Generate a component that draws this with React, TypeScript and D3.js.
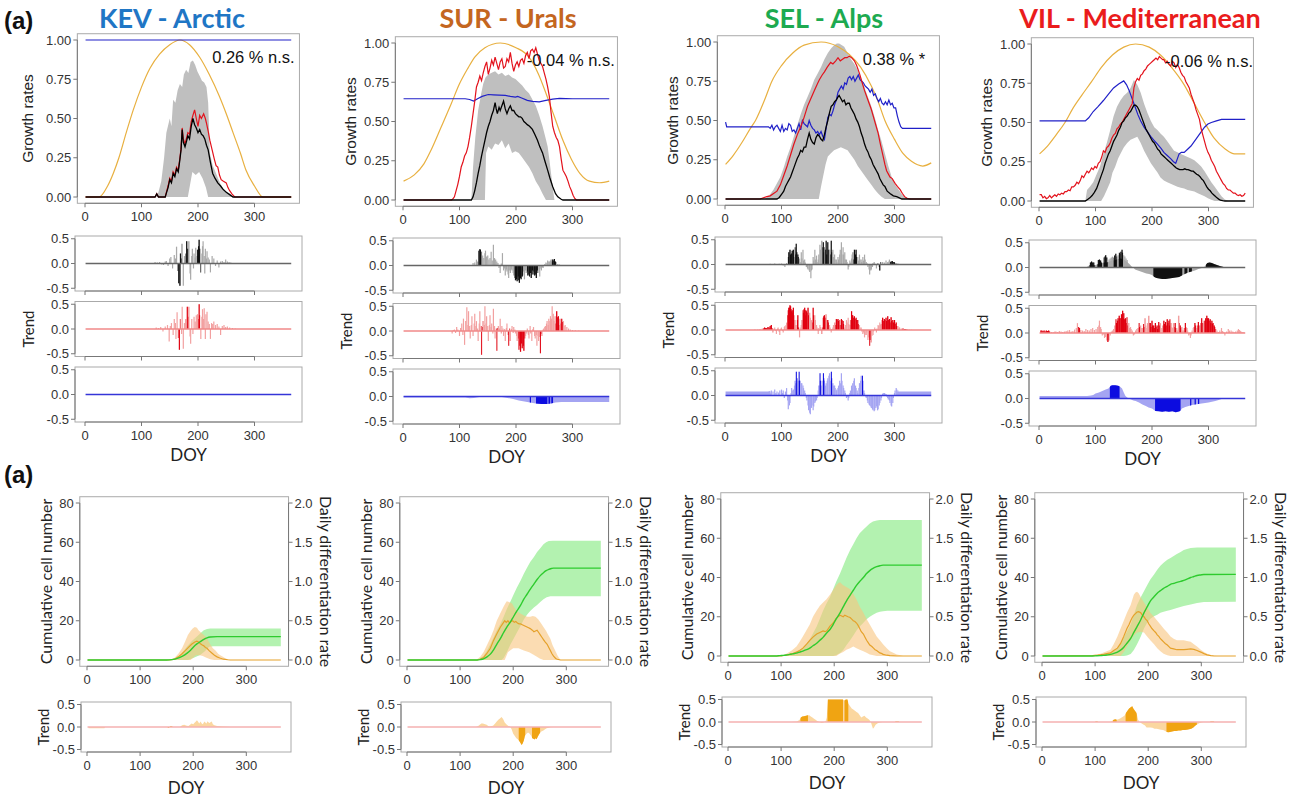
import React from "react";
import * as d3 from "d3";

type Pt = [number, number];

const FONT = "'Liberation Sans', Arial, sans-serif";
const HFONT = "Lato, 'Open Sans', sans-serif";
const AXIS = "#777";
const BOX = "#aaa";

// ---------- axes / labels ----------
const DOY_TICKS = [0, 100, 200, 300];
const GROWTH_TICKS = [0, 0.25, 0.5, 0.75, 1];
const TREND_TICKS = [-0.5, 0, 0.5];
const CELL_TICKS = [0, 20, 40, 60, 80];
const RATE_TICKS = [0, 0.5, 1, 1.5, 2];

const siteNames = ["KEV - Arctic", "SUR - Urals", "SEL - Alps", "VIL - Mediterranean"];
const siteColors = ["#1f76c5", "#c4661f", "#1daa50", "#ea1c1c"];
const trendTexts = ["0.26 % n.s.", "-0.04 % n.s.", "0.38 % *", "-0.06 % n.s."];
const trendTextDoy = [225, 219, 244, 223];

// ---------- KEV ----------
const kevDayLength: Pt[] = [[1,0],[25,0],[40,0.07],[50,0.15],[60,0.25],[73,0.41],[85,0.55],[100,0.7],[115,0.82],[132,0.91],[150,0.97],[168,1],[185,0.97],[203,0.89],[220,0.78],[238,0.64],[250,0.53],[262,0.41],[275,0.28],[285,0.17],[300,0.07],[315,0],[365,0]];
const kevBandHigh: Pt[] = [[126,0],[130,0.03],[135,0.1],[140,0.25],[144,0.41],[150,0.5],[153,0.45],[156,0.62],[160,0.6],[164,0.68],[168,0.72],[172,0.7],[175,0.78],[179,0.81],[183,0.79],[187,0.86],[191,0.87],[195,0.84],[199,0.8],[203,0.77],[207,0.74],[211,0.73],[215,0.7],[218,0.6],[221,0.28],[226,0.2],[232,0.15],[240,0.08],[248,0.04],[256,0.02],[262,0]];
const kevBandLow: Pt[] = [[126,0],[182,0],[186,0.08],[190,0.16],[196,0.14],[202,0.16],[208,0.12],[214,0.06],[218,0],[262,0]];
const kevMean: Pt[] = [[1,0],[124,0],[127,0.02],[130,0],[142,0],[144,0.025],[147,0.06],[150,0.11],[153,0.09],[156,0.15],[159,0.13],[162,0.18],[165,0.16],[168,0.24],[170,0.3],[172,0.43],[174,0.35],[177,0.32],[180,0.36],[182,0.39],[185,0.37],[188,0.45],[191,0.5],[194,0.46],[197,0.44],[200,0.41],[203,0.43],[206,0.4],[209,0.39],[212,0.37],[215,0.33],[218,0.3],[222,0.22],[226,0.15],[230,0.12],[235,0.09],[240,0.07],[244,0.05],[250,0.03],[256,0.015],[262,0],[365,0]];
const kevRed: Pt[] = [[1,0],[124,0],[127,0.02],[130,0],[142,0],[144,0.03],[147,0.07],[150,0.12],[153,0.1],[156,0.16],[159,0.14],[162,0.19],[165,0.17],[168,0.25],[170,0.31],[172,0.44],[174,0.37],[177,0.34],[180,0.38],[182,0.41],[185,0.4],[188,0.48],[191,0.52],[194,0.555],[197,0.5],[200,0.45],[203,0.52],[206,0.5],[210,0.53],[213,0.5],[215,0.47],[218,0.42],[221,0.36],[225,0.3],[229,0.24],[232,0.2],[235,0.19],[238,0.14],[241,0.11],[245,0.1],[250,0.09],[253,0.06],[256,0.04],[260,0.02],[265,0],[365,0]];
const kevBlue: Pt[] = [[1,1],[365,1]];

const kevTrendBlack: Pt[] = [[124,0.03],[128,0.02],[132,0.03],[136,-0.02],[139,-0.03],[142,0.04],[144,0.05],[147,-0.05],[150,0.1],[152,0.13],[155,-0.1],[158,0.17],[160,0.1],[162,0.34],[164,-0.15],[166,-0.4],[168,-0.45],[169,0.2],[171,0.1],[172,0.4],[174,-0.45],[176,0.15],[178,0.2],[180,0.45],[182,0.3],[184,0.45],[186,-0.2],[187,-0.33],[189,0.15],[190,0.3],[192,-0.1],[193,0.2],[195,0.12],[196,0.32],[198,0.15],[199,0.28],[201,0.35],[202,0.48],[203,0.3],[205,-0.18],[207,0.2],[208,0.35],[209,0.45],[211,0.15],[212,-0.2],[213,0.3],[215,0.1],[216,0.25],[218,0.12],[220,0.08],[222,-0.18],[225,0.15],[228,0.1],[231,-0.05],[234,0.06],[237,-0.08],[240,0.04],[243,0.05],[246,0.03],[249,0.08],[252,0.04],[255,0.03],[258,0.02],[261,0.01],[264,0.01]];
const kevTrendBlackSig: Pt[] = [[165,170],[179,182],[199,204]];
const kevTrendRed: Pt[] = [[126,0.03],[130,0.02],[134,0.04],[138,-0.05],[142,0.05],[146,0.08],[149,-0.25],[151,0.06],[153,0.12],[156,-0.12],[158,0.2],[160,0.12],[161,-0.2],[163,0.34],[165,-0.18],[167,-0.42],[169,0.2],[171,-0.1],[172,0.45],[174,-0.4],[176,0.12],[178,0.2],[181,0.45],[183,0.25],[184,0.45],[186,-0.15],[187,-0.3],[189,0.2],[191,-0.1],[193,0.25],[195,0.15],[197,0.28],[199,0.3],[200,0.2],[202,0.5],[203,0.28],[205,-0.2],[207,0.25],[208,0.4],[210,0.2],[211,0.42],[213,-0.2],[214,0.3],[216,0.35],[218,0.15],[220,0.1],[222,-0.2],[224,0.12],[226,0.1],[228,0.15],[231,0.08],[234,0.1],[237,0.05],[240,-0.12],[243,0.06],[246,0.08],[249,0.04],[252,0.05],[256,0.03],[261,0.02],[266,0.01]];
const kevTrendRedSig: Pt[] = [[166,168],[180,182],[201,203]];

const kevCells: Pt[] = [[1,0],[150,0],[160,0.2],[170,0.8],[180,2],[188,3.4],[195,5],[201,6.8],[207,8.2],[213,9.3],[220,10.5],[226,11.3],[232,11.7],[245,11.9],[365,11.9]];
const kevCellsHigh: Pt[] = [[150,0],[163,0.5],[176,2.5],[188,6.8],[198,9.8],[207,12],[214,13.8],[220,15.2],[226,15.8],[232,16],[365,16.1]];
const kevCellsLow: Pt[] = [[150,0],[190,0],[200,1],[213,2.5],[222,4.5],[230,6.8],[238,7],[365,7]];
const kevRate: Pt[] = [[1,0],[155,0],[165,0.01],[172,0.04],[179,0.08],[185,0.12],[191,0.16],[197,0.2],[203,0.23],[207,0.24],[210,0.23],[213,0.21],[217,0.19],[220,0.18],[223,0.16],[226,0.15],[230,0.12],[235,0.09],[240,0.06],[245,0.04],[250,0.025],[257,0.01],[265,0.003],[270,0],[365,0]];
const kevRateHigh: Pt[] = [[158,0],[165,0.03],[172,0.08],[179,0.15],[185,0.24],[190,0.32],[195,0.37],[199,0.4],[203,0.42],[207,0.41],[210,0.38],[213,0.36],[218,0.33],[223,0.3],[228,0.25],[232,0.2],[237,0.15],[242,0.12],[247,0.08],[251,0.06],[256,0.04],[261,0.02],[270,0]];
const kevRateLow: Pt[] = [[158,0],[195,0],[200,0.03],[205,0.06],[212,0.06],[218,0.05],[225,0.03],[232,0.01],[240,0],[270,0]];
const kevTrendCell: Pt[] = [[3,-0.03],[33,-0.03],[34,0],[150,0],[153,-0.02],[158,0.02],[162,0],[175,0],[179,0.04],[183,0.05],[188,0.03],[191,0.02],[194,0.05],[197,0.08],[200,0.06],[203,0.1],[205,0.12],[207,0.15],[209,0.12],[210,0.1],[212,0.08],[213,0.12],[215,0.1],[217,0.06],[219,0.08],[221,0.12],[223,0.1],[225,0.08],[227,0.13],[229,0.1],[231,0.09],[233,0.11],[235,0.12],[237,0.06],[240,0.04],[245,0.02],[255,0.01],[265,0.005],[270,0]];
const kevTrendCellSig: Pt[] = [[153,162]];

// ---------- SUR ----------
const surDayLength: Pt[] = [[1,0.12],[20,0.16],[37,0.23],[50,0.32],[67,0.46],[85,0.61],[100,0.74],[115,0.84],[127,0.91],[145,0.97],[172,1],[200,0.97],[223,0.91],[240,0.8],[253,0.68],[268,0.53],[283,0.38],[298,0.26],[313,0.17],[330,0.12],[348,0.11],[365,0.12]];
const surBandHigh: Pt[] = [[121,0],[124,0.21],[128,0.4],[133,0.57],[138,0.67],[142,0.74],[146,0.78],[151,0.8],[157,0.81],[163,0.82],[169,0.8],[175,0.81],[181,0.79],[187,0.8],[193,0.78],[199,0.77],[205,0.75],[211,0.73],[217,0.7],[223,0.68],[229,0.64],[235,0.6],[241,0.54],[247,0.47],[252,0.4],[256,0.34],[259,0.26],[262,0.17],[265,0.08],[268,0]];
const surBandLow: Pt[] = [[121,0],[145,0],[147,0.3],[151,0.34],[157,0.32],[163,0.36],[169,0.35],[175,0.38],[181,0.33],[187,0.36],[193,0.3],[199,0.31],[205,0.3],[211,0.27],[217,0.24],[223,0.21],[229,0.17],[235,0.12],[241,0.085],[247,0.04],[253,0],[268,0]];
const surMean: Pt[] = [[1,0],[121,0],[124,0.02],[127,0.06],[130,0.11],[133,0.17],[136,0.22],[139,0.28],[142,0.33],[145,0.38],[148,0.43],[151,0.47],[154,0.5],[157,0.54],[160,0.57],[163,0.62],[165,0.58],[167,0.55],[170,0.59],[172,0.57],[175,0.6],[178,0.63],[181,0.58],[184,0.55],[187,0.58],[190,0.6],[193,0.57],[196,0.57],[199,0.55],[202,0.54],[205,0.53],[208,0.53],[211,0.52],[214,0.5],[217,0.49],[220,0.48],[224,0.47],[229,0.45],[233,0.42],[238,0.38],[242,0.34],[247,0.3],[251,0.25],[256,0.19],[260,0.14],[265,0.085],[270,0.04],[274,0.02],[280,0.005],[283,0],[365,0]];
const surRed: Pt[] = [[1,0],[86,0],[89,0.01],[91,0.02],[94,0.06],[97,0.1],[100,0.15],[103,0.21],[106,0.24],[109,0.28],[112,0.3],[115,0.34],[118,0.4],[121,0.47],[124,0.55],[127,0.63],[130,0.72],[133,0.75],[136,0.79],[139,0.76],[142,0.81],[145,0.85],[148,0.88],[151,0.8],[154,0.84],[157,0.89],[160,0.86],[163,0.91],[166,0.87],[169,0.83],[172,0.88],[175,0.9],[178,0.84],[181,0.85],[184,0.9],[187,0.88],[190,0.94],[193,0.87],[196,0.82],[199,0.86],[202,0.88],[205,0.85],[208,0.89],[211,0.9],[214,0.87],[217,0.92],[220,0.94],[223,0.9],[226,0.95],[229,0.96],[232,0.94],[235,0.97],[238,0.93],[241,0.89],[244,0.87],[247,0.85],[250,0.81],[253,0.77],[256,0.72],[259,0.66],[262,0.56],[265,0.47],[268,0.43],[271,0.4],[274,0.38],[277,0.34],[280,0.26],[283,0.19],[286,0.17],[289,0.15],[292,0.12],[295,0.085],[298,0.06],[301,0.03],[304,0.01],[307,0],[365,0]];
const surBlue: Pt[] = [[1,0.645],[110,0.645],[118,0.64],[125,0.63],[132,0.645],[140,0.66],[151,0.672],[160,0.67],[170,0.668],[181,0.666],[190,0.66],[199,0.655],[203,0.66],[210,0.65],[220,0.635],[229,0.628],[241,0.625],[253,0.635],[265,0.642],[277,0.647],[300,0.645],[365,0.645]];

const surTrendBlack: Pt[] = [[124,0.05],[127,0.06],[130,0.12],[132,0.08],[134,0.3],[136,0.33],[137,0.32],[139,0.28],[141,0.2],[143,0.15],[145,0.25],[146,0.3],[148,0.18],[150,0.2],[152,0.12],[154,0.15],[156,0.28],[158,0.1],[160,0.42],[162,0.15],[164,0.12],[166,0.08],[168,0.05],[170,-0.05],[172,-0.15],[174,0.04],[176,0.25],[178,-0.1],[180,-0.06],[181,-0.2],[183,-0.08],[184,-0.12],[186,-0.18],[187,-0.25],[189,-0.1],[190,-0.15],[192,-0.08],[193,-0.1],[195,-0.15],[196,-0.2],[198,-0.25],[199,-0.3],[201,-0.28],[202,-0.32],[204,-0.22],[205,-0.3],[206,-0.35],[208,-0.25],[209,-0.28],[211,-0.22],[212,-0.2],[214,-0.12],[215,-0.28],[217,-0.1],[218,-0.15],[220,-0.12],[221,-0.2],[223,-0.18],[224,-0.22],[226,-0.15],[227,-0.25],[229,-0.1],[230,-0.18],[232,-0.12],[233,-0.2],[235,-0.18],[236,-0.25],[238,-0.1],[239,-0.15],[241,-0.08],[242,-0.22],[244,-0.06],[245,-0.1],[247,-0.04],[248,-0.05],[251,0.03],[253,0.06],[255,0.05],[256,0.1],[258,0.08],[259,0.08],[261,0.1],[262,0.12],[264,0.08],[265,0.12],[267,0.1],[268,0.13],[270,0.08],[271,0.07],[274,0.03],[277,0.02],[280,0.01]];
const surTrendBlackSig: Pt[] = [[134,138],[198,212],[220,238],[264,270]];
const surTrendRed: Pt[] = [[87,-0.05],[89,0.02],[91,0.03],[93,-0.04],[95,0.08],[97,0.03],[100,-0.1],[102,0.06],[104,0.15],[106,-0.08],[107,0.25],[109,-0.28],[111,0.2],[113,0.48],[115,0.12],[116,0.4],[118,0.1],[119,-0.15],[121,0.12],[122,0.3],[124,-0.1],[126,0.15],[127,0.35],[129,0.1],[130,0.2],[132,0.05],[133,-0.2],[135,0.15],[136,0.4],[138,0.1],[139,-0.48],[141,0.08],[142,0.2],[144,0.12],[145,0.5],[147,0.15],[148,0.3],[150,0.1],[151,-0.2],[153,0.12],[154,0.32],[156,0.08],[157,0.15],[159,-0.05],[160,0.45],[162,0.1],[163,-0.15],[165,0.05],[166,-0.4],[168,0.06],[169,0.1],[171,0.05],[172,0.25],[174,-0.05],[175,0.1],[177,0.05],[178,-0.1],[180,0.04],[181,-0.2],[183,0.06],[184,0.15],[186,-0.08],[187,-0.3],[189,0.05],[190,-0.2],[192,0.04],[193,0.1],[195,-0.04],[196,0.08],[198,0.03],[199,-0.05],[201,-0.1],[202,-0.2],[204,-0.15],[205,-0.38],[207,-0.3],[208,-0.42],[210,-0.25],[211,-0.35],[213,-0.3],[214,-0.4],[216,-0.15],[217,-0.1],[219,-0.05],[220,0.05],[222,-0.08],[223,-0.15],[225,0.1],[226,-0.05],[228,-0.2],[230,0.04],[231,0.08],[233,-0.1],[234,-0.15],[236,-0.08],[237,-0.3],[239,-0.1],[240,-0.2],[242,-0.12],[243,-0.45],[245,-0.06],[246,-0.1],[248,0.03],[249,0.05],[251,0.08],[252,0.1],[254,0.15],[255,0.2],[257,0.12],[258,0.25],[260,0.2],[261,0.3],[263,0.25],[264,0.5],[266,0.35],[267,0.2],[269,0.3],[270,0.15],[272,0.4],[273,0.28],[275,0.3],[276,0.12],[278,0.25],[279,0.15],[281,0.25],[282,0.18],[284,0.2],[285,0.1],[287,0.12],[290,0.08],[293,0.05],[296,0.03],[300,0.02],[305,0.015],[311,0.01]];
const surTrendRedSig: Pt[] = [[139,140],[166,167],[187,188],[205,215],[243,244],[271,276],[280,282]];
const surTrendBlue: Pt[] = [[1,-0.02],[60,-0.02],[110,-0.02],[118,-0.035],[125,-0.03],[135,-0.01],[145,0],[155,0.01],[165,0.005],[175,-0.01],[185,-0.03],[195,-0.05],[205,-0.08],[215,-0.1],[225,-0.12],[235,-0.14],[245,-0.15],[255,-0.15],[262,-0.14],[270,-0.12],[280,-0.11],[290,-0.11],[365,-0.11]];
const surTrendBlueSig: Pt[] = [[225,226],[236,255],[258,260],[263,265]];

const surCells: Pt[] = [[1,0],[132,0],[138,0.2],[144,0.6],[150,1.5],[157,3],[163,5.2],[169,8],[176,11],[182,14],[188,16.8],[195,19.5],[201,22.3],[207,25],[214,28],[220,31],[226,33.5],[232,36],[239,38.7],[245,41],[251,43],[257,44.5],[262,45.5],[267,46.2],[272,46.6],[276,46.8],[365,46.8]];
const surCellsHigh: Pt[] = [[132,0],[144,2],[150,4.5],[157,8],[163,11.5],[169,15],[176,18.5],[182,22],[188,26],[195,30],[201,33.5],[207,37],[214,40.5],[220,44],[226,47],[232,50],[239,52.5],[245,55],[251,57],[257,59],[262,60],[267,60.6],[275,60.8],[365,60.8]];
const surCellsLow: Pt[] = [[132,0],[178,0],[182,1],[188,4],[195,8],[201,11],[207,14],[214,17.5],[220,20.7],[226,23],[232,25],[239,26.7],[245,28],[251,29.5],[257,31],[263,32],[270,32.5],[365,32.5]];
const surRate: Pt[] = [[1,0],[132,0],[138,0.01],[144,0.03],[150,0.08],[157,0.15],[163,0.25],[169,0.33],[176,0.42],[180,0.46],[184,0.5],[187,0.48],[190,0.5],[193,0.47],[196,0.49],[199,0.5],[202,0.48],[205,0.49],[208,0.47],[211,0.46],[214,0.46],[217,0.45],[220,0.44],[223,0.43],[226,0.42],[229,0.41],[232,0.4],[236,0.38],[239,0.36],[242,0.37],[245,0.38],[248,0.35],[251,0.32],[254,0.29],[257,0.26],[260,0.23],[264,0.2],[267,0.16],[270,0.12],[273,0.08],[276,0.05],[280,0.02],[283,0.01],[289,0],[365,0]];
const surRateHigh: Pt[] = [[132,0.01],[138,0.04],[144,0.1],[150,0.18],[157,0.28],[163,0.38],[169,0.5],[176,0.6],[182,0.68],[186,0.73],[188,0.75],[192,0.74],[198,0.72],[202,0.67],[207,0.62],[212,0.6],[217,0.58],[222,0.56],[227,0.55],[232,0.55],[237,0.56],[242,0.55],[247,0.52],[252,0.47],[257,0.42],[262,0.37],[266,0.32],[270,0.27],[274,0.19],[279,0.12],[284,0.05],[289,0]];
const surRateLow: Pt[] = [[132,0],[184,0],[190,0.1],[200,0.15],[210,0.15],[220,0.12],[230,0.1],[240,0.06],[250,0.02],[257,0],[289,0]];
const surTrendCell: Pt[] = [[130,0],[134,0.02],[137,0.05],[140,0.08],[143,0.08],[147,0.06],[150,0.05],[153,0.02],[156,0.01],[159,0.02],[162,0.03],[166,0.08],[169,0.12],[172,0.16],[175,0.19],[178,0.22],[181,0.18],[184,0.1],[188,0.05],[191,0.02],[194,0.01],[197,-0.05],[200,-0.15],[203,-0.2],[206,-0.25],[209,-0.28],[212,-0.32],[214,-0.36],[216,-0.4],[218,-0.36],[220,-0.3],[222,-0.2],[225,-0.15],[228,-0.12],[231,-0.15],[234,-0.2],[236,-0.25],[238,-0.26],[240,-0.28],[242,-0.25],[244,-0.27],[246,-0.22],[248,-0.18],[250,-0.14],[253,-0.1],[257,-0.08],[260,-0.05],[263,-0.03],[267,-0.015],[270,-0.005],[276,0]];
const surTrendCellSig: Pt[] = [[211,222],[236,250]];

// ---------- SEL ----------
const selDayLength: Pt[] = [[1,0.22],[15,0.28],[30,0.36],[45,0.45],[54,0.5],[70,0.63],[83,0.75],[100,0.85],[120,0.93],[140,0.98],[170,1],[200,0.97],[220,0.92],[240,0.84],[259,0.72],[270,0.63],[283,0.5],[300,0.38],[315,0.29],[330,0.24],[350,0.21],[365,0.23]];
const selBandHigh: Pt[] = [[71,0],[80,0.03],[86,0.06],[92,0.1],[98,0.14],[104,0.2],[110,0.27],[116,0.33],[122,0.4],[128,0.47],[134,0.54],[140,0.6],[146,0.65],[152,0.7],[158,0.76],[164,0.8],[170,0.84],[176,0.89],[182,0.93],[188,0.96],[193,0.98],[198,0.99],[202,0.99],[207,0.98],[211,0.97],[217,0.93],[223,0.89],[229,0.86],[235,0.82],[241,0.77],[247,0.71],[253,0.65],[259,0.59],[265,0.52],[271,0.44],[277,0.37],[283,0.29],[289,0.21],[295,0.14],[301,0.09],[307,0.06],[313,0.03],[318,0.015],[330,0]];
const selBandLow: Pt[] = [[71,0],[166,0],[170,0.08],[174,0.15],[178,0.22],[182,0.27],[187,0.29],[193,0.31],[199,0.32],[205,0.33],[211,0.32],[217,0.31],[223,0.28],[229,0.25],[235,0.21],[241,0.18],[247,0.15],[253,0.12],[259,0.09],[265,0.06],[271,0.035],[277,0.015],[283,0],[330,0]];
const selMean: Pt[] = [[1,0],[92,0],[96,0.01],[101,0.035],[104,0.05],[107,0.08],[110,0.1],[113,0.12],[116,0.14],[119,0.17],[122,0.2],[125,0.23],[128,0.26],[131,0.28],[134,0.31],[137,0.3],[140,0.33],[143,0.33],[146,0.38],[149,0.42],[152,0.38],[155,0.36],[158,0.35],[161,0.39],[164,0.41],[167,0.4],[170,0.38],[173,0.37],[176,0.41],[179,0.46],[182,0.5],[185,0.55],[188,0.59],[191,0.6],[194,0.62],[197,0.63],[200,0.65],[202,0.66],[205,0.64],[208,0.62],[211,0.63],[214,0.6],[217,0.61],[220,0.61],[223,0.58],[226,0.56],[229,0.54],[232,0.51],[235,0.49],[238,0.46],[241,0.42],[244,0.39],[247,0.35],[250,0.32],[253,0.3],[256,0.27],[259,0.25],[262,0.22],[265,0.2],[268,0.18],[271,0.16],[274,0.13],[277,0.11],[280,0.09],[283,0.08],[287,0.05],[292,0.035],[298,0.02],[304,0.015],[313,0],[365,0]];
const selRed: Pt[] = [[1,0],[62,0],[68,0.008],[74,0.015],[80,0.02],[86,0.035],[92,0.05],[98,0.09],[104,0.15],[110,0.21],[116,0.28],[122,0.35],[128,0.41],[134,0.46],[140,0.52],[146,0.59],[152,0.64],[158,0.69],[163,0.73],[167,0.76],[172,0.79],[176,0.81],[181,0.84],[187,0.87],[191,0.86],[196,0.88],[200,0.9],[204,0.88],[208,0.89],[212,0.9],[216,0.9],[220,0.91],[224,0.9],[229,0.88],[233,0.85],[238,0.8],[242,0.75],[247,0.69],[252,0.64],[256,0.6],[259,0.57],[263,0.52],[267,0.47],[271,0.42],[275,0.35],[280,0.27],[283,0.22],[286,0.18],[289,0.16],[292,0.14],[296,0.13],[301,0.1],[305,0.08],[310,0.06],[314,0.035],[318,0.015],[322,0.005],[327,0],[365,0]];
const selBlue: Pt[] = [[1,0.49],[3,0.46],[77,0.46],[80,0.45],[83,0.47],[86,0.44],[89,0.46],[92,0.47],[95,0.45],[98,0.43],[101,0.47],[104,0.43],[107,0.45],[110,0.44],[113,0.48],[116,0.47],[119,0.43],[122,0.44],[125,0.42],[128,0.45],[131,0.48],[134,0.44],[137,0.5],[140,0.48],[143,0.47],[146,0.46],[149,0.5],[152,0.47],[155,0.45],[158,0.44],[161,0.42],[164,0.43],[167,0.41],[170,0.43],[173,0.4],[176,0.38],[179,0.45],[182,0.52],[185,0.54],[188,0.53],[191,0.56],[194,0.6],[197,0.63],[200,0.68],[203,0.7],[206,0.72],[209,0.7],[212,0.74],[215,0.73],[218,0.77],[221,0.78],[224,0.76],[227,0.78],[230,0.75],[233,0.77],[236,0.79],[239,0.76],[242,0.75],[245,0.74],[248,0.72],[251,0.71],[254,0.7],[257,0.68],[260,0.7],[263,0.66],[266,0.67],[269,0.64],[272,0.62],[275,0.64],[278,0.61],[281,0.6],[284,0.62],[287,0.6],[290,0.63],[293,0.6],[296,0.61],[299,0.58],[302,0.58],[305,0.53],[308,0.49],[311,0.46],[314,0.45],[365,0.45]];

const selTrendBlack: Pt[] = [[76,0.01],[80,0.015],[84,0.01],[88,0.02],[92,0.01],[96,0.015],[100,0.02],[103,-0.02],[106,-0.05],[109,0.03],[112,0.15],[113,0.25],[115,0.3],[116,0.2],[118,0.22],[119,0.28],[121,0.3],[122,0.15],[124,0.35],[125,0.2],[126,0.42],[127,0.25],[129,0.2],[130,0.15],[132,0.12],[133,0.05],[135,0.25],[136,0.12],[138,0.3],[139,0.08],[141,0.1],[142,0.04],[144,-0.05],[146,-0.08],[147,-0.1],[149,-0.12],[150,-0.15],[152,-0.28],[153,-0.12],[154,-0.1],[156,0.15],[157,0.08],[159,0.3],[160,0.1],[162,0.18],[163,0.05],[165,0.1],[166,0.2],[168,0.4],[169,0.3],[171,0.48],[172,0.35],[174,0.45],[175,0.25],[176,0.35],[178,0.3],[179,0.48],[180,0.2],[182,0.45],[183,0.3],[185,0.3],[186,0.2],[188,0.48],[189,0.25],[191,0.3],[192,0.15],[194,0.2],[195,0.1],[197,0.1],[198,0.05],[200,0.15],[201,0.1],[203,0.2],[204,0.3],[206,0.45],[207,0.2],[209,0.35],[210,0.2],[212,0.25],[213,0.1],[215,0.1],[216,0.05],[218,-0.1],[219,-0.05],[221,0.08],[222,0.04],[224,0.12],[225,0.2],[226,0.25],[228,0.1],[229,0.3],[231,0.2],[232,0.3],[233,0.15],[235,0.15],[236,0.08],[238,0.2],[239,0.1],[241,0.1],[242,0.05],[244,0.15],[245,0.08],[247,0.2],[248,0.1],[250,0.05],[252,0.02],[253,-0.05],[255,-0.1],[256,-0.2],[258,-0.12],[259,-0.1],[261,-0.05],[262,0.03],[264,0.05],[265,0.02],[268,-0.08],[270,0.03],[271,0.02],[273,-0.05],[274,-0.12],[276,0.05],[279,0.05],[282,0.04],[285,0.08],[288,0.05],[290,0.06],[291,0.1],[293,0.05],[294,0.06],[296,0.07],[297,0.05],[299,0.05],[300,0.04],[303,0.03],[306,0.02],[309,0.01],[312,0.01]];
const selTrendBlackSig: Pt[] = [[112,122],[125,130],[173,175],[178,183],[187,189],[228,233],[273,275],[293,301]];
const selTrendRed: Pt[] = [[53,0.01],[58,0.01],[62,0.02],[66,0.03],[68,0.03],[70,0.05],[72,0.04],[74,0.04],[76,0.06],[78,0.05],[80,0.08],[82,0.1],[84,0.04],[85,-0.05],[87,0.03],[88,0.05],[90,-0.02],[91,-0.08],[93,0.03],[94,0.05],[96,-0.04],[97,-0.1],[99,0.03],[100,0.05],[102,-0.02],[103,-0.05],[105,0.06],[106,0.08],[108,0.1],[109,0.15],[111,0.3],[112,0.4],[113,0.45],[114,0.45],[115,0.5],[116,0.48],[117,0.42],[118,0.38],[119,0.35],[120,0.4],[121,0.45],[122,0.3],[124,0.2],[125,0.1],[126,0.1],[128,0.2],[129,0.3],[130,0.05],[132,-0.15],[133,0.05],[135,0.1],[136,0.2],[138,0.4],[139,0.35],[140,0.42],[141,0.45],[142,0.3],[143,0.4],[144,0.38],[145,0.35],[147,0.45],[148,0.3],[150,0.35],[151,0.25],[153,0.2],[154,0.15],[156,0.45],[157,0.3],[159,0.3],[160,0.2],[162,0.1],[163,0.05],[165,-0.08],[166,0.04],[168,0.1],[169,0.06],[171,-0.08],[172,0.05],[174,0.25],[175,0.28],[176,0.3],[178,0.25],[179,0.32],[180,0.2],[182,0.2],[183,0.15],[185,0.1],[186,0.05],[188,-0.05],[189,0.02],[191,0.05],[192,0.1],[194,0.15],[195,0.1],[197,0.22],[198,0.2],[200,0.22],[201,0.18],[203,0.2],[204,0.1],[206,0.22],[207,0.2],[209,0.18],[210,0.12],[212,0.05],[213,0.1],[215,0.2],[216,0.15],[218,0.25],[219,0.12],[221,0.1],[222,0.2],[224,0.38],[225,0.3],[226,0.3],[227,0.25],[229,0.28],[230,0.22],[232,0.25],[233,0.2],[235,0.2],[236,0.12],[238,0.1],[239,0.05],[241,0.05],[242,-0.03],[244,-0.08],[245,-0.05],[247,-0.15],[248,-0.1],[250,-0.1],[251,-0.05],[253,-0.2],[254,-0.15],[256,-0.32],[257,-0.2],[259,-0.25],[260,-0.12],[262,-0.1],[263,-0.03],[265,0.05],[266,0.02],[268,-0.05],[269,0.03],[271,0.1],[272,0.08],[274,0.15],[275,0.1],[276,0.12],[278,0.2],[279,0.25],[280,0.18],[282,0.22],[283,0.2],[285,0.25],[286,0.18],[288,0.28],[289,0.2],[291,0.22],[292,0.15],[294,0.26],[295,0.18],[297,0.2],[298,0.15],[300,0.2],[301,0.12],[303,0.15],[304,0.08],[306,0.08],[308,0.05],[309,0.05],[312,0.03],[315,0.03],[318,0.02],[320,0.02],[323,0.01],[326,0.01],[330,0.005]];
const selTrendRedSig: Pt[] = [[68,83],[111,122],[128,130],[138,148],[155,157],[173,177],[181,183],[196,202],[205,210],[223,236],[256,257],[278,304],[314,322]];
const selTrendBlueBase: Pt[] = [[1,0.08],[76,0.08],[80,0.09],[82,0],[303,0],[305,0.07],[308,0.08],[365,0.08]];
const selTrendBlue: Pt[] = [[82,0.1],[85,0.08],[88,0.12],[90,0.05],[92,0.08],[95,0.06],[97,0.1],[100,0.12],[102,0.05],[103,0.1],[105,-0.05],[107,0.08],[109,0.15],[111,-0.1],[112,-0.28],[114,-0.2],[115,-0.15],[117,0.05],[118,0.15],[120,0.1],[121,0.12],[123,0.2],[124,0.3],[125,0.25],[126,0.48],[128,0.35],[129,0.3],[131,0.48],[132,0.3],[133,0.3],[135,0.25],[136,0.25],[138,0.2],[139,0.15],[141,0.1],[142,0.05],[144,-0.05],[145,-0.1],[147,-0.2],[148,-0.3],[150,-0.35],[151,-0.38],[153,-0.25],[154,-0.2],[156,-0.3],[157,-0.22],[159,-0.15],[160,-0.12],[162,-0.1],[163,-0.05],[165,0.1],[166,0.2],[168,0.45],[169,0.3],[171,0.2],[172,0.3],[174,0.45],[175,0.35],[176,0.3],[178,0.2],[179,0.25],[181,0.3],[182,0.35],[184,0.4],[185,0.45],[186,0.3],[188,0.48],[189,0.35],[191,0.25],[192,0.2],[194,0.2],[195,0.15],[197,0.1],[198,0.12],[200,0.15],[201,0.2],[203,0.3],[204,0.25],[206,0.45],[207,0.3],[209,0.2],[210,0.15],[212,0.1],[213,0.05],[215,-0.05],[216,-0.03],[218,-0.1],[219,-0.05],[221,0.05],[222,0.1],[224,0.2],[225,0.15],[226,0.25],[228,0.3],[229,0.35],[231,0.2],[232,0.15],[234,0.1],[235,0.05],[237,0.15],[238,0.25],[240,0.3],[241,0.4],[243,0.4],[244,0.3],[246,0.1],[247,0.05],[249,-0.02],[250,-0.05],[252,-0.1],[253,-0.15],[255,-0.18],[256,-0.2],[258,-0.22],[259,-0.25],[261,-0.28],[262,-0.3],[264,-0.32],[265,-0.3],[267,-0.25],[268,-0.22],[270,-0.3],[271,-0.28],[273,-0.2],[274,-0.15],[276,-0.1],[277,-0.05],[279,0.03],[280,0.05],[282,0.05],[283,0.04],[285,0.03],[286,-0.02],[288,-0.05],[289,-0.08],[291,-0.1],[292,-0.15],[294,-0.2],[295,-0.22],[297,-0.15],[298,-0.05],[300,0.05],[301,0.1],[303,0.15],[304,0.12],[306,0.1]];
const selTrendBlueSig: Pt[] = [[126,127],[131,132],[168,169],[174,175],[188,189],[243,244]];

const selCells: Pt[] = [[1,0],[90,0],[98,0.2],[104,0.3],[110,0.5],[116,0.8],[122,1.1],[129,1.5],[135,2],[141,2.5],[148,3.2],[154,4],[160,5.2],[167,6.5],[173,8],[179,9.5],[185,11.5],[192,13.5],[198,16],[204,19],[211,22],[217,25],[223,28],[230,31],[236,33.5],[242,36],[248,38],[255,40],[261,42],[267,43.5],[273,44.6],[280,45.5],[286,46],[292,46.3],[365,46.3]];
const selCellsHigh: Pt[] = [[100,0],[110,0.5],[122,1.5],[135,3],[141,4],[148,6],[154,8.5],[160,11.5],[167,15],[173,19],[179,23],[185,26.5],[192,30],[198,34],[204,38],[211,42],[217,46],[223,50],[230,54],[236,57],[242,60],[248,62.5],[255,64.5],[261,66],[267,67.5],[273,68.5],[280,69],[286,69.3],[365,69.3]];
const selCellsLow: Pt[] = [[100,0],[198,0],[204,0.5],[211,1.5],[217,3],[223,5.5],[230,8],[236,10.5],[242,13],[248,15],[255,17],[261,18.7],[267,20],[273,21],[280,22],[286,22.5],[292,22.8],[300,23],[365,23]];
const selRate: Pt[] = [[1,0],[100,0],[108,0.01],[116,0.02],[123,0.035],[129,0.05],[135,0.07],[141,0.1],[148,0.15],[154,0.2],[160,0.24],[167,0.28],[173,0.3],[179,0.32],[183,0.31],[186,0.32],[189,0.35],[192,0.38],[195,0.4],[198,0.42],[201,0.45],[204,0.48],[207,0.5],[211,0.52],[214,0.51],[217,0.5],[220,0.52],[223,0.51],[226,0.5],[230,0.49],[233,0.47],[236,0.45],[239,0.44],[242,0.42],[245,0.39],[248,0.35],[251,0.31],[255,0.28],[258,0.24],[261,0.2],[264,0.17],[267,0.14],[271,0.12],[274,0.1],[277,0.08],[280,0.07],[283,0.055],[286,0.04],[290,0.03],[292,0.02],[299,0.01],[305,0.005],[318,0],[365,0]];
const selRateHigh: Pt[] = [[100,0],[110,0.03],[120,0.07],[129,0.12],[135,0.18],[141,0.25],[148,0.33],[154,0.4],[160,0.5],[167,0.58],[173,0.64],[179,0.68],[185,0.72],[192,0.78],[198,0.84],[204,0.9],[208,0.93],[211,0.94],[214,0.92],[217,0.9],[223,0.88],[230,0.85],[236,0.79],[242,0.72],[248,0.63],[255,0.55],[261,0.47],[267,0.4],[274,0.32],[280,0.25],[286,0.2],[292,0.15],[299,0.1],[305,0.06],[311,0.04],[318,0.02],[325,0.01],[330,0]];
const selRateLow: Pt[] = [[100,0],[204,0],[210,0.03],[217,0.05],[223,0.08],[230,0.1],[236,0.12],[242,0.1],[248,0.08],[255,0.06],[261,0.04],[267,0.02],[274,0.01],[280,0],[330,0]];
const selTrendCell: Pt[] = [[120,0],[130,0.01],[135,0.05],[137,0.1],[140,0.12],[143,0.13],[147,0.14],[150,0.15],[153,0.15],[156,0.12],[159,0.1],[162,0.07],[165,0.05],[168,0.02],[172,0],[176,-0.02],[180,-0.01],[184,0.02],[186,0.1],[188,0.5],[216,0.5],[219,0.48],[222,0.5],[225,0.5],[227,0.4],[230,0.35],[233,0.3],[236,0.28],[239,0.25],[242,0.22],[245,0.2],[248,0.15],[251,0.1],[254,0.12],[257,0.14],[260,0.1],[263,0.08],[266,0.05],[269,0],[271,-0.08],[273,-0.15],[275,-0.12],[278,-0.06],[282,-0.03],[286,-0.01],[291,0],[314,0],[316,0.01],[321,0.01],[323,0]];
const selTrendCellSig: Pt[] = [[137,150],[188,216],[220,226],[315,322]];

// ---------- VIL ----------
const vilDayLength: Pt[] = [[1,0.3],[15,0.35],[30,0.42],[46,0.5],[60,0.59],[75,0.67],[93,0.76],[110,0.85],[130,0.93],[150,0.98],[171,1],[195,0.98],[215,0.93],[235,0.85],[257,0.74],[275,0.62],[293,0.5],[310,0.4],[330,0.33],[346,0.3],[365,0.3]];
const vilBandHigh: Pt[] = [[82,0],[85,0.07],[90,0.09],[96,0.12],[102,0.17],[108,0.22],[114,0.3],[120,0.37],[126,0.45],[132,0.54],[138,0.6],[144,0.64],[150,0.67],[156,0.69],[162,0.72],[168,0.77],[174,0.74],[180,0.69],[186,0.62],[192,0.56],[198,0.51],[204,0.47],[210,0.45],[215,0.43],[221,0.41],[227,0.38],[233,0.35],[239,0.32],[245,0.31],[251,0.3],[257,0.29],[263,0.28],[269,0.27],[275,0.26],[281,0.24],[287,0.22],[293,0.19],[299,0.155],[305,0.12],[311,0.09],[317,0.06],[323,0.03],[329,0.01],[335,0]];
const vilBandLow: Pt[] = [[82,0],[110,0],[115,0.03],[120,0.07],[126,0.12],[130,0.18],[135,0.22],[140,0.27],[144,0.3],[150,0.34],[156,0.37],[162,0.39],[168,0.4],[174,0.41],[180,0.37],[186,0.32],[192,0.28],[198,0.24],[204,0.21],[210,0.18],[215,0.15],[221,0.13],[227,0.12],[233,0.11],[239,0.1],[245,0.09],[251,0.085],[257,0.08],[263,0.07],[269,0.065],[275,0.06],[281,0.05],[287,0.04],[293,0.03],[299,0.017],[305,0.008],[311,0],[335,0]];
const vilMean: Pt[] = [[1,0],[82,0],[86,0.01],[90,0.02],[94,0.035],[98,0.055],[102,0.08],[106,0.12],[110,0.16],[114,0.2],[117,0.24],[120,0.27],[123,0.3],[126,0.32],[129,0.35],[132,0.38],[135,0.4],[138,0.42],[141,0.45],[144,0.47],[147,0.5],[150,0.51],[153,0.53],[156,0.54],[159,0.56],[162,0.57],[165,0.59],[168,0.61],[171,0.61],[174,0.6],[177,0.58],[180,0.55],[183,0.52],[186,0.49],[189,0.46],[192,0.44],[195,0.42],[198,0.4],[201,0.38],[204,0.37],[207,0.35],[210,0.33],[213,0.32],[216,0.3],[219,0.29],[222,0.28],[225,0.27],[228,0.26],[231,0.25],[234,0.24],[237,0.23],[240,0.22],[243,0.21],[246,0.205],[249,0.2],[252,0.2],[255,0.2],[258,0.205],[261,0.2],[264,0.2],[267,0.195],[270,0.19],[273,0.19],[276,0.18],[279,0.17],[282,0.165],[285,0.155],[288,0.14],[291,0.13],[294,0.11],[297,0.09],[300,0.075],[303,0.065],[306,0.05],[309,0.04],[312,0.03],[315,0.02],[318,0.012],[321,0.006],[325,0.002],[329,0],[365,0]];
const vilRed: Pt[] = [[1,0.04],[4,0.04],[7,0.02],[10,0.03],[13,0.015],[16,0.02],[19,0.035],[22,0.02],[25,0.03],[28,0.04],[31,0.03],[34,0.045],[37,0.04],[40,0.05],[43,0.045],[46,0.06],[49,0.06],[52,0.07],[55,0.065],[58,0.09],[61,0.09],[64,0.1],[67,0.12],[70,0.11],[73,0.13],[76,0.16],[79,0.15],[82,0.17],[85,0.19],[88,0.18],[90,0.19],[93,0.21],[96,0.2],[99,0.22],[102,0.21],[105,0.24],[108,0.25],[111,0.28],[114,0.32],[117,0.31],[120,0.34],[123,0.35],[126,0.37],[129,0.4],[132,0.42],[135,0.43],[138,0.46],[141,0.47],[144,0.49],[147,0.5],[150,0.52],[153,0.54],[156,0.56],[159,0.58],[162,0.6],[165,0.62],[168,0.72],[171,0.76],[174,0.78],[177,0.77],[180,0.8],[183,0.81],[186,0.83],[189,0.84],[192,0.86],[195,0.87],[198,0.88],[201,0.89],[204,0.9],[207,0.91],[210,0.9],[213,0.92],[216,0.91],[219,0.9],[221,0.9],[224,0.88],[227,0.89],[230,0.87],[233,0.86],[236,0.89],[239,0.88],[242,0.85],[245,0.87],[248,0.85],[251,0.82],[254,0.8],[257,0.79],[260,0.76],[263,0.74],[266,0.72],[269,0.68],[272,0.65],[275,0.62],[278,0.58],[281,0.55],[284,0.52],[287,0.46],[290,0.42],[293,0.38],[296,0.34],[299,0.31],[302,0.29],[305,0.26],[308,0.24],[311,0.22],[314,0.19],[317,0.17],[320,0.15],[323,0.13],[326,0.11],[329,0.1],[332,0.08],[335,0.07],[338,0.07],[341,0.06],[344,0.05],[347,0.05],[350,0.04],[353,0.035],[356,0.04],[359,0.03],[362,0.035],[365,0.05]];
const vilBlue: Pt[] = [[1,0.51],[82,0.51],[88,0.53],[96,0.57],[104,0.6],[114,0.64],[123,0.68],[132,0.72],[141,0.745],[150,0.765],[155,0.74],[160,0.7],[165,0.65],[170,0.6],[175,0.55],[180,0.51],[186,0.47],[192,0.44],[198,0.41],[204,0.385],[210,0.36],[216,0.335],[221,0.31],[227,0.29],[233,0.27],[238,0.25],[242,0.24],[245,0.27],[248,0.3],[252,0.31],[257,0.31],[263,0.33],[269,0.35],[275,0.38],[281,0.41],[287,0.44],[293,0.47],[299,0.49],[305,0.5],[314,0.51],[323,0.52],[365,0.52]];

const vilTrendBlackBase: Pt[] = [[83,0],[86,0.02],[90,0.05],[95,0.04],[100,0.05],[105,0.07],[110,0.08],[115,0.1],[120,0.1],[125,0.12],[130,0.14],[135,0.15],[140,0.17],[145,0.18],[150,0.16],[155,0.12],[160,0.07],[164,0.02],[167,0],[170,-0.04],[175,-0.06],[180,-0.08],[185,-0.1],[190,-0.12],[195,-0.13],[200,-0.15],[204,-0.19],[208,-0.21],[213,-0.22],[218,-0.23],[224,-0.23],[230,-0.22],[236,-0.21],[242,-0.2],[248,-0.19],[253,-0.16],[258,-0.13],[264,-0.1],[270,-0.08],[276,-0.06],[282,-0.03],[288,-0.01],[292,0],[295,0.05],[298,0.09],[302,0.1],[306,0.09],[310,0.07],[315,0.05],[320,0.03],[325,0.015],[330,0]];
const vilTrendBlack: Pt[] = [[91,0.1],[93,0.12],[95,0.1],[97,0.1],[105,0.15],[107,0.16],[109,0.14],[111,0.1],[115,0.2],[117,0.22],[118,0.25],[120,0.2],[124,0.16],[126,0.18],[128,0.2],[130,0.22],[132,0.2],[134,0.24],[136,0.28],[138,0.22],[140,0.25],[142,0.3],[143,0.28],[145,0.32],[147,0.36],[148,0.3],[150,0.25],[152,0.22],[154,0.18],[156,0.15]];
const vilTrendBlackSig: Pt[] = [[90,98],[104,111],[115,121],[133,137],[142,148],[203,253],[258,262],[266,270],[296,330]];
const vilTrendRed: Pt[] = [[3,0.05],[5,0.05],[7,0.04],[9,0.05],[11,0.03],[13,0.05],[15,0.04],[17,0.05],[19,0.03],[22,0.02],[25,0.02],[28,0.03],[30,0.03],[33,0.02],[36,0.04],[39,0.03],[42,0.02],[45,0.03],[48,0.04],[51,0.05],[54,0.06],[57,0.03],[60,0.04],[63,0.07],[66,0.1],[68,0.2],[70,0.12],[72,0.1],[74,0.06],[77,0.05],[80,0.04],[83,0.08],[86,0.06],[89,0.05],[92,0.08],[95,0.1],[98,0.06],[101,0.08],[104,0.12],[106,0.15],[107,0.25],[109,0.12],[110,0.08],[112,-0.05],[114,-0.03],[116,-0.1],[118,-0.08],[120,-0.15],[122,-0.18],[124,-0.15],[126,-0.05],[128,0.03],[130,0.05],[132,0.08],[134,0.15],[136,0.28],[137,0.2],[139,0.25],[140,0.3],[142,0.35],[143,0.3],[145,0.3],[146,0.38],[148,0.45],[149,0.3],[150,0.4],[151,0.28],[153,0.3],[154,0.2],[156,0.32],[157,0.15],[159,0.2],[160,0.1],[162,0.12],[163,0.08],[165,0.05],[167,-0.05],[169,-0.03],[171,0.05],[173,0.08],[175,0.1],[177,0.2],[178,0.12],[180,0.15],[181,0.1],[183,0.1],[185,0.18],[186,0.12],[188,0.3],[189,0.15],[191,0.1],[192,0.2],[194,0.35],[195,0.2],[197,0.2],[198,0.12],[200,0.25],[201,0.15],[203,0.15],[204,0.1],[206,0.2],[207,0.12],[209,0.15],[210,0.08],[212,0.22],[213,0.15],[215,0.2],[216,0.1],[218,0.1],[219,0.15],[221,0.25],[222,0.18],[224,0.22],[225,0.15],[227,0.28],[228,0.2],[230,0.25],[231,0.15],[232,0.28],[234,0.2],[235,0.12],[236,0.1],[238,0.2],[239,0.12],[241,0.2],[242,0.1],[244,0.1],[245,0.05],[247,0.35],[248,0.2],[250,0.15],[251,0.1],[253,0.12],[254,0.05],[256,0.05],[257,0.1],[259,0.2],[260,0.12],[262,0.1],[263,0.05],[265,-0.05],[266,-0.03],[268,-0.1],[269,-0.05],[271,0.05],[273,0.1],[274,0.12],[276,0.2],[277,0.15],[279,0.1],[280,0.15],[282,0.22],[283,0.15],[285,0.15],[286,0.2],[288,0.3],[289,0.2],[291,0.2],[292,0.25],[294,0.25],[295,0.3],[297,0.35],[298,0.3],[300,0.3],[301,0.25],[303,0.28],[304,0.2],[306,0.25],[307,0.18],[308,0.2],[310,0.15],[311,0.12],[313,0.08],[315,0.05],[318,0.02],[320,0.05],[323,0.1],[325,0.04],[327,0.02],[329,-0.05],[332,0.03],[335,0.08],[337,0.05],[340,0.05],[343,0.03],[345,0.02],[348,0.03],[351,0.05],[353,0.08],[355,0.06],[357,0.04],[359,0.02],[361,0.02],[363,0.01]];
const vilTrendRedSig: Pt[] = [[3,19],[70,72],[121,123],[136,156],[177,178],[185,186],[196,213],[220,232],[240,242],[249,251],[258,260],[275,277],[281,283],[287,289],[293,312]];
const vilTrendBlue: Pt[] = [[1,0.05],[60,0.05],[85,0.05],[92,0.06],[96,0.07],[100,0.1],[106,0.12],[112,0.15],[118,0.18],[123,0.2],[127,0.26],[130,0.27],[135,0.27],[140,0.26],[143,0.24],[147,0.2],[150,0.12],[153,0.05],[156,0.02],[159,0],[163,-0.02],[167,-0.04],[171,-0.05],[177,-0.08],[183,-0.12],[189,-0.15],[194,-0.18],[200,-0.2],[206,-0.25],[212,-0.26],[218,-0.27],[224,-0.26],[230,-0.27],[236,-0.26],[242,-0.28],[246,-0.27],[250,-0.25],[253,-0.2],[259,-0.17],[265,-0.15],[271,-0.13],[276,-0.12],[282,-0.11],[288,-0.1],[294,-0.09],[300,-0.08],[306,-0.065],[312,-0.05],[318,-0.03],[323,-0.01],[329,0],[365,0]];
const vilTrendBlueSig: Pt[] = [[126,142],[206,250],[268,269],[276,277],[282,283]];

const vilCells: Pt[] = [[1,0],[95,0],[103,0.1],[110,0.2],[116,0.3],[122,0.5],[129,0.8],[135,1.3],[142,2],[148,3],[154,4.5],[160,6.5],[167,9],[173,12],[179,15],[186,18.5],[192,22],[198,25],[204,28],[211,30.2],[217,32],[223,33.3],[229,34.5],[236,35.5],[242,36.5],[248,37],[254,37.5],[261,38],[267,38.5],[273,39.2],[280,40],[286,40.5],[292,41],[299,41.3],[305,41.5],[365,41.6]];
const vilCellsHigh: Pt[] = [[100,0],[110,0.3],[116,0.5],[129,1.5],[142,4],[148,6.5],[154,9.5],[160,12.5],[167,16],[173,21],[179,26],[186,30],[192,33],[198,36],[204,39],[211,41.5],[217,44],[223,46],[229,47.5],[236,49],[242,50],[248,51],[254,52],[261,53],[267,54],[273,54.5],[280,55],[292,55.3],[365,55.3]];
const vilCellsLow: Pt[] = [[100,0],[154,0],[160,0.3],[167,1],[173,3],[179,6],[186,10],[192,14],[198,17],[204,19],[211,20.3],[217,21],[223,22],[229,22.5],[236,23],[242,23.5],[254,24.5],[267,25.5],[280,26.3],[292,27],[305,27.5],[365,27.7]];
const vilRate: Pt[] = [[1,0],[95,0.005],[105,0.01],[116,0.02],[122,0.03],[129,0.04],[135,0.07],[142,0.1],[148,0.16],[154,0.25],[160,0.35],[164,0.4],[167,0.45],[170,0.49],[173,0.52],[176,0.54],[179,0.56],[182,0.565],[186,0.55],[189,0.52],[192,0.5],[195,0.47],[198,0.45],[201,0.41],[204,0.38],[207,0.35],[211,0.32],[214,0.3],[217,0.27],[220,0.25],[223,0.22],[226,0.2],[229,0.18],[232,0.16],[236,0.14],[239,0.12],[242,0.1],[248,0.09],[254,0.08],[261,0.08],[267,0.08],[273,0.085],[280,0.09],[286,0.085],[292,0.07],[299,0.05],[305,0.03],[311,0.015],[318,0.005],[324,0],[365,0]];
const vilRateHigh: Pt[] = [[95,0.01],[110,0.03],[122,0.06],[129,0.08],[135,0.15],[142,0.25],[148,0.35],[154,0.45],[160,0.55],[167,0.65],[173,0.78],[176,0.81],[179,0.82],[182,0.8],[186,0.75],[192,0.68],[198,0.62],[204,0.55],[211,0.5],[217,0.45],[223,0.4],[229,0.35],[236,0.3],[242,0.25],[248,0.22],[254,0.2],[261,0.2],[267,0.2],[273,0.19],[280,0.18],[286,0.15],[292,0.12],[299,0.08],[305,0.05],[311,0.03],[318,0.01],[330,0]];
const vilRateLow: Pt[] = [[95,0],[148,0],[154,0.05],[160,0.12],[167,0.2],[173,0.26],[179,0.3],[186,0.31],[192,0.3],[198,0.25],[204,0.2],[211,0.15],[217,0.1],[223,0.06],[229,0.03],[236,0.01],[242,0],[330,0]];
const vilTrendCell: Pt[] = [[100,0],[101,0.01],[104,0.01],[106,0],[128,0],[132,0.02],[135,0.05],[138,0.06],[141,0.05],[144,0.06],[147,0.08],[150,0.1],[153,0.12],[156,0.15],[158,0.2],[161,0.25],[164,0.3],[167,0.33],[170,0.35],[172,0.3],[175,0.25],[178,0.2],[181,0.05],[184,0],[187,-0.03],[190,-0.05],[194,-0.08],[197,-0.12],[200,-0.12],[204,-0.12],[208,-0.13],[212,-0.15],[216,-0.15],[220,-0.16],[224,-0.17],[228,-0.18],[232,-0.2],[235,-0.22],[238,-0.23],[241,-0.22],[245,-0.21],[249,-0.2],[253,-0.2],[257,-0.19],[261,-0.19],[265,-0.18],[269,-0.18],[273,-0.17],[277,-0.16],[281,-0.15],[285,-0.12],[289,-0.08],[293,-0.05],[296,-0.03],[300,-0.01],[304,0],[316,0],[318,0.01],[323,0.01],[325,0]];
const vilTrendCellSig: Pt[] = [[100,105],[134,140],[158,178],[235,291],[316,324]];

// ---------- styling / layout ----------
const C = {
  dayLength: "#e8b040", band: "#bfbfbf", mean: "#000", red: "#e3121c", blue: "#2020c8",
  greenLine: "#2ecb2e", greenBand: "#b3f2b0", orangeLine: "#e5a12a", orangeBand: "#f9c57f",
};
const TREND_STYLE = {
  black: { light: "#a9a9a9", dark: "#111", base: "#666" },
  red: { light: "#f2a0a0", dark: "#e00010", base: "#f08888" },
  blue: { light: "#a4a4f2", dark: "#0c0ce0", base: "#3535d8" },
  orange: { light: "#fbd7a0", dark: "#f0a412", base: "#f4b0b0" },
};
const KX = 0.565;
const KXB = 0.531;
const layout = [
  { x0: 85, g1: 40, t: 236, bx0: 87, b80: 503, bt: 702, titleX: 172 },
  { x0: 403, g1: 43, t: 238, bx0: 407, b80: 503, bt: 702, titleX: 508 },
  { x0: 725, g1: 42, t: 237, bx0: 728, b80: 499, bt: 697, titleX: 824 },
  { x0: 1039, g1: 44, t: 240, bx0: 1042, b80: 499, bt: 697, titleX: 1140 },
];

interface TrendData { spikes?: Pt[]; area?: Pt[]; sig?: Pt[]; style: keyof typeof TREND_STYLE; }
const sites = [
  {
    dayLength: kevDayLength, bandHigh: kevBandHigh, bandLow: kevBandLow, mean: kevMean, red: kevRed, blue: kevBlue,
    trends: [
      { spikes: kevTrendBlack, sig: kevTrendBlackSig, style: "black" },
      { spikes: kevTrendRed, sig: kevTrendRedSig, style: "red" },
      { style: "blue" },
    ] as TrendData[],
    cells: kevCells, cellsHigh: kevCellsHigh, cellsLow: kevCellsLow, rate: kevRate, rateHigh: kevRateHigh, rateLow: kevRateLow,
    cellTrend: { area: kevTrendCell, sig: kevTrendCellSig, style: "orange" } as TrendData,
  },
  {
    dayLength: surDayLength, bandHigh: surBandHigh, bandLow: surBandLow, mean: surMean, red: surRed, blue: surBlue,
    trends: [
      { spikes: surTrendBlack, sig: surTrendBlackSig, style: "black" },
      { spikes: surTrendRed, sig: surTrendRedSig, style: "red" },
      { area: surTrendBlue, sig: surTrendBlueSig, style: "blue" },
    ] as TrendData[],
    cells: surCells, cellsHigh: surCellsHigh, cellsLow: surCellsLow, rate: surRate, rateHigh: surRateHigh, rateLow: surRateLow,
    cellTrend: { area: surTrendCell, sig: surTrendCellSig, style: "orange" } as TrendData,
  },
  {
    dayLength: selDayLength, bandHigh: selBandHigh, bandLow: selBandLow, mean: selMean, red: selRed, blue: selBlue,
    trends: [
      { spikes: selTrendBlack, sig: selTrendBlackSig, style: "black" },
      { spikes: selTrendRed, sig: selTrendRedSig, style: "red" },
      { spikes: selTrendBlue, area: selTrendBlueBase, sig: selTrendBlueSig, style: "blue" },
    ] as TrendData[],
    cells: selCells, cellsHigh: selCellsHigh, cellsLow: selCellsLow, rate: selRate, rateHigh: selRateHigh, rateLow: selRateLow,
    cellTrend: { area: selTrendCell, sig: selTrendCellSig, style: "orange" } as TrendData,
  },
  {
    dayLength: vilDayLength, bandHigh: vilBandHigh, bandLow: vilBandLow, mean: vilMean, red: vilRed, blue: vilBlue,
    trends: [
      { spikes: vilTrendBlack, area: vilTrendBlackBase, sig: vilTrendBlackSig, style: "black" },
      { spikes: vilTrendRed, sig: vilTrendRedSig, style: "red" },
      { area: vilTrendBlue, sig: vilTrendBlueSig, style: "blue" },
    ] as TrendData[],
    cells: vilCells, cellsHigh: vilCellsHigh, cellsLow: vilCellsLow, rate: vilRate, rateHigh: vilRateHigh, rateLow: vilRateLow,
    cellTrend: { area: vilTrendCell, sig: vilTrendCellSig, style: "orange" } as TrendData,
  },
];

type Scale = d3.ScaleLinear<number, number>;

function linePath(x: Scale, y: Scale, pts: Pt[], curve: d3.CurveFactory = d3.curveLinear) {
  return d3.line<Pt>().x((d) => x(d[0])).y((d) => y(d[1])).curve(curve)(pts) || "";
}
function bandPath(x: Scale, y: Scale, hi: Pt[], lo: Pt[]) {
  return linePath(x, y, hi.concat([...lo].reverse())) + "Z";
}
function areaPath(x: Scale, y: Scale, pts: Pt[]) {
  return d3.area<Pt>().x((d) => x(d[0])).y0(y(0)).y1((d) => y(d[1]))(pts) || "";
}

const tickText = { fontFamily: FONT, fontSize: 13, fill: "#333" } as const;

function LeftAxis({ y, ticks, x, fmt }: { y: Scale; ticks: number[]; x: number; fmt: (t: number) => string }) {
  return (
    <g>
      <line x1={x} x2={x} y1={y(ticks[0])} y2={y(ticks[ticks.length - 1])} stroke={AXIS} />
      {ticks.map((t) => (
        <g key={t}>
          <line x1={x - 4} x2={x} y1={y(t)} y2={y(t)} stroke={AXIS} />
          <text x={x - 6} y={y(t)} dy="0.36em" textAnchor="end" {...tickText}>{fmt(t)}</text>
        </g>
      ))}
    </g>
  );
}
function RightAxis({ y, ticks, x, fmt }: { y: Scale; ticks: number[]; x: number; fmt: (t: number) => string }) {
  return (
    <g>
      <line x1={x} x2={x} y1={y(ticks[0])} y2={y(ticks[ticks.length - 1])} stroke={AXIS} />
      {ticks.map((t) => (
        <g key={t}>
          <line x1={x} x2={x + 4} y1={y(t)} y2={y(t)} stroke={AXIS} />
          <text x={x + 6} y={y(t)} dy="0.36em" textAnchor="start" {...tickText}>{fmt(t)}</text>
        </g>
      ))}
    </g>
  );
}
function BottomAxis({ x, y, labels }: { x: Scale; y: number; labels: boolean }) {
  return (
    <g>
      <line x1={x(DOY_TICKS[0])} x2={x(DOY_TICKS[DOY_TICKS.length - 1])} y1={y} y2={y} stroke={AXIS} />
      {DOY_TICKS.map((t) => (
        <g key={t}>
          <line x1={x(t)} x2={x(t)} y1={y} y2={y + 4} stroke={AXIS} />
          {labels && <text x={x(t)} y={y + 18} textAnchor="middle" {...tickText}>{t}</text>}
        </g>
      ))}
    </g>
  );
}

function TrendPanel({ id, x, left, right, top, h, data, labels }: {
  id: string; x: Scale; left: number; right: number; top: number; h: number; data: TrendData; labels: boolean;
}) {
  const pad = h * 0.05;
  const y = d3.scaleLinear([-0.5, 0.5], [top + h - pad, top + pad]);
  const st = TREND_STYLE[data.style];
  const marks = (color: string) => (
    <g>
      {data.area && <path d={areaPath(x, y, data.area)} fill={color} />}
      {(data.spikes || []).map(([d, v], k) => (
        <line key={k} x1={x(d)} x2={x(d)} y1={y(0)} y2={y(v)} stroke={color} strokeWidth={1.2} />
      ))}
    </g>
  );
  return (
    <g>
      <defs>
        <clipPath id={id}>
          {(data.sig || []).map(([a, b], k) => (
            <rect key={k} x={x(a - 0.6)} width={x(b + 0.6) - x(a - 0.6)} y={top} height={h} />
          ))}
        </clipPath>
      </defs>
      {marks(st.light)}
      <g clipPath={`url(#${id})`}>{marks(st.dark)}</g>
      <line x1={x(1)} x2={x(365)} y1={y(0)} y2={y(0)} stroke={st.base} strokeWidth={1.3} />
      <rect x={left} y={top} width={right - left} height={h} fill="none" stroke={BOX} />
      <LeftAxis y={y} ticks={TREND_TICKS} x={left} fmt={(t) => t.toFixed(1)} />
      <BottomAxis x={x} y={top + h} labels={labels} />
    </g>
  );
}

function Site({ i }: { i: number }) {
  const L = layout[i];
  const s = sites[i];
  // growth rates panel
  const x = d3.scaleLinear([0, 365], [L.x0, L.x0 + 365 * KX]);
  const y = d3.scaleLinear([0, 1], [L.g1 + 157, L.g1]);
  const gl = x(-13.56), gr = x(379.56), gt = y(1.04), gb = y(-0.04);
  // cell panel
  const xb = d3.scaleLinear([0, 365], [L.bx0, L.bx0 + 365 * KXB]);
  const yl = d3.scaleLinear([0, 80], [L.b80 + 157, L.b80]);
  const yr = d3.scaleLinear([0, 2], [L.b80 + 157, L.b80]);
  const bl = xb(-13.56), br = xb(379.56), bt = yl(83.2), bb = yl(-3.2);
  const labelStyle = { fontFamily: HFONT, fontSize: 16, fill: "#222" } as const;

  return (
    <g>
      <text x={L.titleX} y={28} textAnchor="middle" fontFamily={HFONT} fontWeight={700} fontSize={27} fill={siteColors[i]}>
        {siteNames[i]}
      </text>

      {/* growth rates */}
      <path d={bandPath(x, y, s.bandHigh, s.bandLow)} fill={C.band} />
      <path d={linePath(x, y, s.dayLength, d3.curveMonotoneX)} fill="none" stroke={C.dayLength} strokeWidth={1.2} />
      <path d={linePath(x, y, s.blue)} fill="none" stroke={C.blue} strokeWidth={1.2} />
      <path d={linePath(x, y, s.red)} fill="none" stroke={C.red} strokeWidth={1.2} />
      <path d={linePath(x, y, s.mean)} fill="none" stroke={C.mean} strokeWidth={1.3} />
      <rect x={gl} y={gt} width={gr - gl} height={gb - gt} fill="none" stroke={BOX} />
      <LeftAxis y={y} ticks={GROWTH_TICKS} x={gl} fmt={(t) => t.toFixed(2)} />
      <BottomAxis x={x} y={gb} labels />
      <text x={x(trendTextDoy[i])} y={y(0.855)} fontFamily={FONT} fontSize={16.5} fill="#111">{trendTexts[i]}</text>
      {i === 0 && (
        <text transform={`translate(27,${(gt + gb) / 2}) rotate(-90)`} textAnchor="middle" dominantBaseline="central"
          fontFamily={FONT} fontSize={15.5} fill="#222">Growth rates</text>
      )}
      {i > 0 && (
        <text transform={`translate(${gl - 45},${(gt + gb) / 2}) rotate(-90)`} textAnchor="middle" dominantBaseline="central"
          fontFamily={FONT} fontSize={15.5} fill="#222">Growth rates</text>
      )}

      {/* trend panels */}
      {s.trends.map((td, k) => (
        <TrendPanel key={k} id={`tr${i}${k}`} x={x} left={L.x0 - 10} right={L.x0 + 217}
          top={L.t + 65.5 * k} h={55} data={td} labels={k === 2} />
      ))}
      <text transform={`translate(${L.x0 - 57},${L.t + 65.5 + 27.5}) rotate(-90)`} textAnchor="middle"
        dominantBaseline="central" {...labelStyle} fontSize={15}>Trend</text>
      <text x={(L.x0 - 10 + L.x0 + 217) / 2} y={L.t + 65.5 * 2 + 55 + 39} textAnchor="middle" {...labelStyle} fontSize={17}>DOY</text>

      {/* cumulative cells / differentiation rate */}
      <path d={bandPath(xb, yl, s.cellsHigh, s.cellsLow)} fill={C.greenBand} />
      <path d={bandPath(xb, yr, s.rateHigh, s.rateLow)} fill={C.orangeBand} fillOpacity={0.6} />
      <path d={linePath(xb, yr, s.rate)} fill="none" stroke={C.orangeLine} strokeWidth={1.2} />
      <path d={linePath(xb, yl, s.cells, d3.curveMonotoneX)} fill="none" stroke={C.greenLine} strokeWidth={1.4} />
      <rect x={bl} y={bt} width={br - bl} height={bb - bt} fill="none" stroke={BOX} />
      <LeftAxis y={yl} ticks={CELL_TICKS} x={bl} fmt={(t) => String(t)} />
      <RightAxis y={yr} ticks={RATE_TICKS} x={br} fmt={(t) => t.toFixed(1)} />
      <BottomAxis x={xb} y={bb} labels />
      <text transform={`translate(${bl - 34},${(bt + bb) / 2}) rotate(-90)`} textAnchor="middle"
        dominantBaseline="central" {...labelStyle}>Cumulative cell number</text>
      <text transform={`translate(${br + 38},${(bt + bb) / 2}) rotate(90)`} textAnchor="middle"
        dominantBaseline="central" {...labelStyle}>Daily differentiation rate</text>

      <TrendPanel id={`ct${i}`} x={xb} left={L.bx0 - 6} right={L.bx0 + 204} top={L.bt} h={50}
        data={s.cellTrend} labels />
      <text transform={`translate(${L.bx0 - 44},${L.bt + 25}) rotate(-90)`} textAnchor="middle"
        dominantBaseline="central" {...labelStyle} fontSize={15}>Trend</text>
      <text x={(L.bx0 - 6 + L.bx0 + 204) / 2} y={L.bt + 50 + 42} textAnchor="middle" {...labelStyle} fontSize={17}>DOY</text>
    </g>
  );
}

export default function App() {
  return (
    <svg width={1299} height={798} style={{ position: "absolute", left: 0, top: 0, background: "#fff" }}>
      <rect width={1299} height={798} fill="#fff" />
      <text x={4} y={29} fontFamily={FONT} fontWeight={700} fontSize={24} fill="#111">(a)</text>
      <text x={4} y={483} fontFamily={FONT} fontWeight={700} fontSize={24} fill="#111">(a)</text>
      {layout.map((_, i) => <Site key={i} i={i} />)}
    </svg>
  );
}
